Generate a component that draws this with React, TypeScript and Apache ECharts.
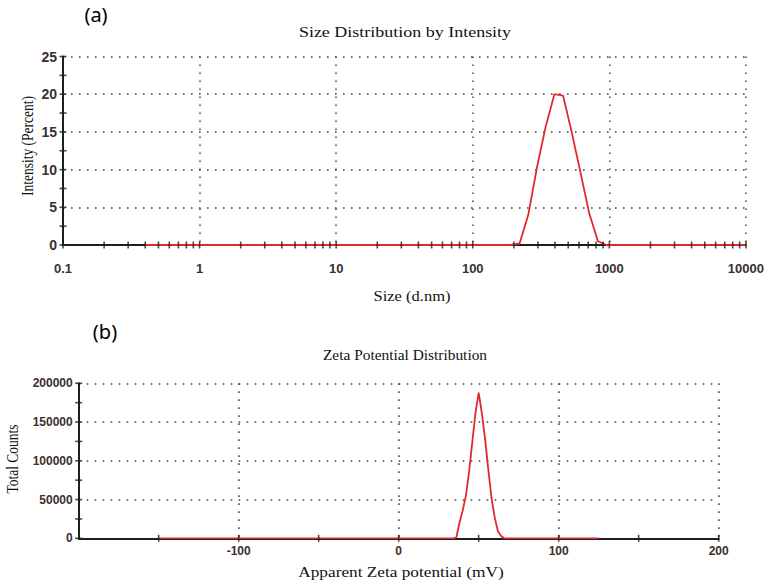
import React, { useEffect, useRef } from "react";
import * as echarts from "echarts";

// (a) Size distribution by intensity
const sizeNm = [0.4, 190.2, 220.2, 255.0, 295.3, 342.0, 396.1, 458.7, 531.2, 615.1, 712.4, 825.0, 955.4, 10000];
const intensityPct = [0, 0, 0.2, 4.0, 10.3, 15.7, 20.0, 19.8, 14.9, 9.6, 4.2, 0.5, 0, 0];

// (b) Zeta potential distribution
const zetaMv = [-150, 34, 36, 38, 40, 42, 44, 46, 48, 50, 52, 54, 56, 58, 60, 62, 64, 66, 125];
const zetaCounts = [0, 0, 1000, 20000, 36000, 55000, 86000, 124000, 162000, 188000, 161000, 128000, 89000, 52000, 27000, 9000, 3000, 0, 0];

// axis tick positions
const sizeDecades = [0.1, 1, 10, 100, 1000];
const decadeMultipliers = [1, 2, 3, 4, 5, 6, 7, 8, 9];
const sizeAxisEnd = 10000;
const intensityTicks = [0, 2.5, 5, 7.5, 10, 12.5, 15, 17.5, 20, 22.5, 25];
const zetaTicks = [-150, -100, -50, 0, 50, 100, 150, 200];
const countTicks = [0, 25000, 50000, 75000, 100000, 125000, 150000, 175000, 200000];

const RED = "#de2a2f";
const AXIS = "#1e1e1e";
const LABEL = "#3a3030";
const SERIF = "'Liberation Serif', 'DejaVu Serif', serif";
const SANS = "'Liberation Sans', Arial, sans-serif";

export default function App() {
  const ref = useRef<HTMLDivElement>(null);
  useEffect(() => {
    if (!ref.current) return;
    const chart = echarts.init(ref.current, undefined, { renderer: "svg" });

    const sizeTickPos: number[] = [];
    sizeDecades.forEach((d) => decadeMultipliers.forEach((m) => sizeTickPos.push(+(d * m).toPrecision(6))));
    sizeTickPos.push(sizeAxisEnd);

    const dotted = { show: true, lineStyle: { type: [1.6, 6.4] as any, color: "#444", width: 1.5 } };
    const axisLine = { show: true, onZero: false, lineStyle: { color: AXIS, width: 2 } };
    const plain = (v: number) => String(+v.toPrecision(6));

    const option: any = {
      animation: false,
      grid: [
        { left: 63, top: 56.5, width: 683, height: 188.5 },
        { left: 78.7, top: 383.3, width: 640, height: 155 },
      ],
      xAxis: [
        {
          type: "log",
          logBase: 10,
          min: 0.1,
          max: 10000,
          gridIndex: 0,
          axisLine,
          axisTick: { show: false },
          splitLine: dotted,
          axisLabel: { color: LABEL, fontFamily: SANS, fontWeight: "bold", fontSize: 13, margin: 17, formatter: plain },
        },
        {
          type: "value",
          min: -200,
          max: 200,
          interval: 100,
          gridIndex: 1,
          axisLine,
          axisTick: { show: false },
          splitLine: dotted,
          axisLabel: { color: LABEL, fontFamily: SANS, fontWeight: "bold", fontSize: 12, margin: 7, showMinLabel: false, formatter: plain },
        },
      ],
      yAxis: [
        {
          type: "value",
          min: 0,
          max: 25,
          interval: 5,
          gridIndex: 0,
          axisLine,
          axisTick: { show: false },
          splitLine: dotted,
          axisLabel: { color: LABEL, fontFamily: SANS, fontWeight: "bold", fontSize: 14, margin: 6, formatter: plain },
        },
        {
          type: "value",
          min: 0,
          max: 200000,
          interval: 50000,
          gridIndex: 1,
          axisLine,
          axisTick: { show: false },
          splitLine: dotted,
          axisLabel: { color: LABEL, fontFamily: SANS, fontWeight: "bold", fontSize: 12, margin: 6, formatter: plain },
        },
      ],
      series: [
        {
          type: "line",
          xAxisIndex: 0,
          yAxisIndex: 0,
          data: sizeNm.map((s, i) => [s, intensityPct[i]]),
          showSymbol: false,
          lineStyle: { color: RED, width: 1.8 },
          z: 3,
        },
        {
          type: "line",
          xAxisIndex: 1,
          yAxisIndex: 1,
          data: zetaMv.map((v, i) => [v, zetaCounts[i]]),
          showSymbol: false,
          lineStyle: { color: RED, width: 1.8 },
          z: 3,
        },
        {
          type: "scatter",
          xAxisIndex: 0,
          yAxisIndex: 0,
          data: sizeTickPos.map((s) => [s, 0]),
          symbol: "rect",
          symbolSize: [1.6, 7],
          itemStyle: { color: AXIS },
          clip: false,
          silent: true,
          z: 5,
        },
        {
          type: "scatter",
          xAxisIndex: 0,
          yAxisIndex: 0,
          data: intensityTicks.map((t) => [0.1, t]),
          symbol: "rect",
          symbolSize: [7, 1.6],
          itemStyle: { color: AXIS },
          clip: false,
          silent: true,
          z: 5,
        },
        {
          type: "scatter",
          xAxisIndex: 1,
          yAxisIndex: 1,
          data: zetaTicks.map((t) => [t, 0]),
          symbol: "rect",
          symbolSize: [1.6, 7],
          itemStyle: { color: AXIS },
          clip: false,
          silent: true,
          z: 5,
        },
        {
          type: "scatter",
          xAxisIndex: 1,
          yAxisIndex: 1,
          data: countTicks.map((t) => [-200, t]),
          symbol: "rect",
          symbolSize: [7, 1.6],
          itemStyle: { color: AXIS },
          clip: false,
          silent: true,
          z: 5,
        },
      ],
      graphic: [
        { type: "text", x: 96, y: 14, style: { text: "(a)", font: "20px 'Noto Sans', 'Open Sans', sans-serif", fill: "#000", textAlign: "center", textVerticalAlign: "middle" } },
        { type: "text", x: 105, y: 331, style: { text: "(b)", font: "20px 'Noto Sans', 'Open Sans', sans-serif", fill: "#000", textAlign: "center", textVerticalAlign: "middle" } },
        { type: "text", x: 405, y: 32, scaleX: 1.2, style: { text: "Size Distribution by Intensity", font: `15px ${SERIF}`, fill: "#111", textAlign: "center", textVerticalAlign: "middle" } },
        { type: "text", x: 412, y: 296, scaleX: 1.1, style: { text: "Size (d.nm)", font: `15px ${SERIF}`, fill: "#111", textAlign: "center", textVerticalAlign: "middle" } },
        { type: "text", x: 28, y: 146, rotation: Math.PI / 2, scaleY: 1.2, style: { text: "Intensity (Percent)", font: `13.5px ${SERIF}`, fill: "#111", textAlign: "center", textVerticalAlign: "middle" } },
        { type: "text", x: 405, y: 355, scaleX: 1.1, style: { text: "Zeta Potential Distribution", font: `14px ${SERIF}`, fill: "#111", textAlign: "center", textVerticalAlign: "middle" } },
        { type: "text", x: 401, y: 572, scaleX: 1.15, style: { text: "Apparent Zeta potential (mV)", font: `15px ${SERIF}`, fill: "#111", textAlign: "center", textVerticalAlign: "middle" } },
        { type: "text", x: 13, y: 459, rotation: Math.PI / 2, scaleY: 1.2, style: { text: "Total Counts", font: `13.5px ${SERIF}`, fill: "#111", textAlign: "center", textVerticalAlign: "middle" } },
      ],
    };
    chart.setOption(option);
    return () => chart.dispose();
  }, []);

  return (
    <div
      ref={ref}
      style={{ position: "fixed", left: 0, top: 0, width: 767, height: 580, background: "#fff" }}
    />
  );
}
